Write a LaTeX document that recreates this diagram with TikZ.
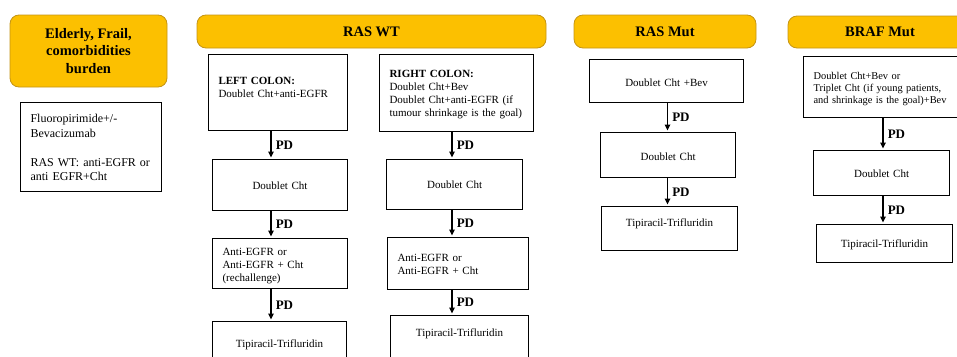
\documentclass[tikz,border=0pt]{standalone}
\usepackage{fontspec}
\setmainfont{Liberation Serif}
\usetikzlibrary{arrows.meta}
\definecolor{headgold}{RGB}{252,192,0}
\definecolor{headedge}{RGB}{196,148,20}

\begin{document}
\begin{tikzpicture}[x=1pt, y=-1pt,
    header/.style={draw=headedge, line width=0.8pt, rounded corners=9pt, fill=headgold, inner sep=0pt, align=center, font=\fontsize{14.5}{17.5}\selectfont\bfseries},
    stepbox/.style={draw, line width=1.1pt, anchor=north west, inner xsep=10pt, inner ysep=0pt, font=\fontsize{11}{13}\selectfont},
    pd/.style={-{Triangle[length=6pt,width=5.5pt]}, line width=1.5pt, shorten >=1.5pt},
    pdlabel/.style={midway, right=4pt, inner sep=0pt, font=\fontsize{13}{13}\selectfont\bfseries}]
    \useasboundingbox (0,0) rectangle (957,356);
    \clip (0,0) rectangle (957,356);
    % Headers
    \node[header, minimum width=157pt, minimum height=72pt] (elderly) at (88.5,51) {Elderly, Frail,\\comorbidities\\burden};
    \node[header, minimum width=349pt, minimum height=33pt] (raswt) at (371.5,31.5) {RAS WT};
    \node[header, minimum width=182pt, minimum height=33pt] (rasmut) at (665,31.5) {RAS Mut};
    \node[header, minimum width=184pt, minimum height=32pt] (brafmut) at (880,32) {BRAF Mut};
    % Elderly column
    \node[stepbox, align=left, text width=121pt, text height=20pt, text depth=69pt, font=\fontsize{12}{14.5}\selectfont] (frail) at (20,102) {Fluoropirimide+/-\\Bevacizumab\\[14.5pt]RAS WT: anti-EGFR or\\anti EGFR+Cht};
    % RAS WT, left colon
    \node[stepbox, align=left, text width=119pt, text height=30pt, text depth=46pt, font=\fontsize{11}{12.5}\selectfont] (leftcol) at (208,54) {{\bfseries LEFT COLON:}\\Doublet Cht+anti-EGFR};
    \node[stepbox, align=center, text width=115pt, text height=30pt, text depth=21pt] (dcleft) at (212,159) {Doublet Cht};
    \node[stepbox, align=left, text width=115pt, text height=17pt, text depth=33pt] (egfrleft) at (212,238) {Anti-EGFR or\\Anti-EGFR + Cht\\(rechallenge)};
    \node[stepbox, align=center, text width=114pt, text height=26pt, text depth=40pt] (tipleft) at (212,321) {Tipiracil-Trifluridin};
    % RAS WT, right colon
    \node[stepbox, align=left, text width=134pt, text height=23pt, text depth=54pt] (rightcol) at (379,54) {{\bfseries RIGHT COLON:}\\Doublet Cht+Bev\\Doublet Cht+anti-EGFR (if\\tumour shrinkage is the goal)};
    \node[stepbox, align=center, text width=116pt, text height=29pt, text depth=21pt] (dcright) at (386,159) {Doublet Cht};
    \node[stepbox, align=left, text width=121pt, text height=24pt, text depth=28pt] (egfrright) at (387,237) {Anti-EGFR or\\Anti-EGFR + Cht};
    \node[stepbox, align=center, text width=118pt, text height=21pt, text depth=50pt] (tipright) at (390,315) {Tipiracil-Trifluridin};
    % RAS Mut
    \node[stepbox, align=center, text width=134pt, text height=27pt, text depth=16pt] (mutbev) at (589,59) {Doublet Cht +Bev};
    \node[stepbox, align=center, text width=115pt, text height=28pt, text depth=17pt] (mutdc) at (600,132) {Doublet Cht};
    \node[stepbox, align=center, text width=116pt, text height=20pt, text depth=24pt] (muttip) at (601,206) {Tipiracil-Trifluridin};
    % BRAF Mut
    \node[stepbox, align=left, text width=150pt, text height=23pt, text depth=38pt, font=\fontsize{10.4}{12}\selectfont] (brafbev) at (803,56) {Doublet Cht+Bev or\\Triplet Cht (if young patients,\\and shrinkage is the goal)+Bev};
    \node[stepbox, align=center, text width=116pt, text height=27pt, text depth=18pt] (brafdc) at (813,150) {Doublet Cht};
    \node[stepbox, align=center, text width=116pt, text height=23pt, text depth=15pt] (braftip) at (816,224) {Tipiracil-Trifluridin};
    % Arrows
    \coordinate (colL) at (271,0);
    \coordinate (colR) at (452,0);
    \coordinate (colM) at (667.5,0);
    \coordinate (colB) at (883,0);
    \draw[pd] (leftcol.south -| colL) -- (dcleft.north -| colL) node[pdlabel] {PD};
    \draw[pd] (dcleft.south -| colL) -- (egfrleft.north -| colL) node[pdlabel] {PD};
    \draw[pd] (egfrleft.south -| colL) -- (tipleft.north -| colL) node[pdlabel] {PD};
    \draw[pd] (rightcol.south -| colR) -- (dcright.north -| colR) node[pdlabel] {PD};
    \draw[pd] (dcright.south -| colR) -- (egfrright.north -| colR) node[pdlabel] {PD};
    \draw[pd] (egfrright.south -| colR) -- (tipright.north -| colR) node[pdlabel] {PD};
    \draw[pd] (mutbev.south -| colM) -- (mutdc.north -| colM) node[pdlabel] {PD};
    \draw[pd] (mutdc.south -| colM) -- (muttip.north -| colM) node[pdlabel] {PD};
    \draw[pd] (brafbev.south -| colB) -- (brafdc.north -| colB) node[pdlabel] {PD};
    \draw[pd] (brafdc.south -| colB) -- (braftip.north -| colB) node[pdlabel] {PD};
\end{tikzpicture}
\end{document}
